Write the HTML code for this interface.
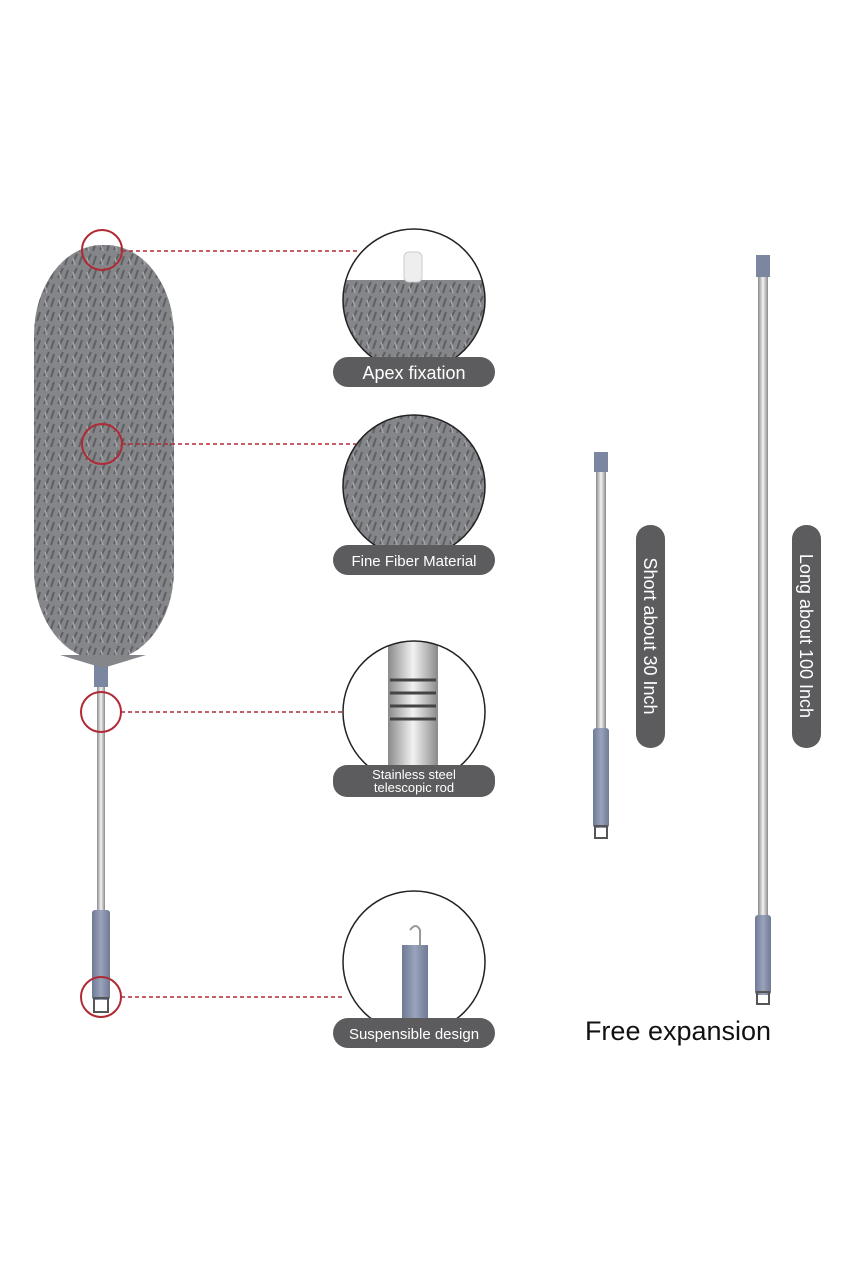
<!DOCTYPE html>
<html><head><meta charset="utf-8"><style>
html,body{margin:0;padding:0;background:#fff;}
svg{display:block;font-family:"Liberation Sans",sans-serif;}
</style></head><body>
<svg width="853" height="1280" viewBox="0 0 853 1280" xmlns="http://www.w3.org/2000/svg">
<defs>
<linearGradient id="rod" x1="0" x2="1"><stop offset="0" stop-color="#8a8a8a"/><stop offset=".5" stop-color="#f2f2f2"/><stop offset="1" stop-color="#8a8a8a"/></linearGradient>
<linearGradient id="hd" x1="0" x2="1"><stop offset="0" stop-color="#6f7a95"/><stop offset=".5" stop-color="#9aa3bb"/><stop offset="1" stop-color="#6f7a95"/></linearGradient>
<pattern id="fib" width="14" height="14" patternUnits="userSpaceOnUse"><rect width="14" height="14" fill="#85868a"/><path d="M2 12 L7 2 M9 13 L12 4" stroke="#5f6064" stroke-width="2"/><path d="M5 13 L3 6" stroke="#a4a5a9" stroke-width="1.5"/></pattern>
<clipPath id="c1"><circle cx="414" cy="300" r="71"/></clipPath>
<clipPath id="c2"><circle cx="414" cy="486" r="71"/></clipPath>
<clipPath id="c3"><circle cx="414" cy="712" r="71"/></clipPath>
<clipPath id="c4"><circle cx="414" cy="962" r="71"/></clipPath>
</defs>
<!-- main duster -->
<rect x="97" y="655" width="8" height="260" fill="url(#rod)"/>
<rect x="94" y="652" width="14" height="35" fill="#7b86a0"/>
<rect x="92" y="910" width="18" height="90" rx="3" fill="url(#hd)"/>
<rect x="94" y="998" width="14" height="14" fill="none" stroke="#555" stroke-width="2"/>
<rect x="34" y="245" width="140" height="415" rx="68" ry="90" fill="url(#fib)"/>
<path d="M60 655 L103 668 L146 655 Z" fill="#85868a"/>
<!-- red markers -->
<g fill="none" stroke="#b02a35" stroke-width="2">
<circle cx="102" cy="250" r="20"/><circle cx="102" cy="444" r="20"/><circle cx="101" cy="712" r="20"/><circle cx="101" cy="997" r="20"/>
</g>
<g stroke="#b02a35" stroke-width="1.5" stroke-dasharray="4,3">
<line x1="122" y1="251" x2="360" y2="251"/><line x1="122" y1="444" x2="356" y2="444"/><line x1="121" y1="712" x2="344" y2="712"/><line x1="121" y1="997" x2="344" y2="997"/>
</g>
<!-- detail circles -->
<g clip-path="url(#c1)"><rect x="340" y="225" width="150" height="150" fill="#fff"/><rect x="340" y="280" width="150" height="100" fill="url(#fib)"/><rect x="404" y="252" width="18" height="30" rx="5" fill="#eee" stroke="#ccc"/></g>
<g clip-path="url(#c2)"><rect x="340" y="410" width="150" height="150" fill="url(#fib)"/></g>
<g clip-path="url(#c3)"><rect x="340" y="638" width="150" height="150" fill="#fff"/><rect x="388" y="638" width="50" height="150" fill="url(#rod)"/><g stroke="#444" stroke-width="3"><line x1="390" y1="680" x2="436" y2="680"/><line x1="390" y1="693" x2="436" y2="693"/><line x1="390" y1="706" x2="436" y2="706"/><line x1="390" y1="719" x2="436" y2="719"/></g></g>
<g clip-path="url(#c4)"><rect x="340" y="888" width="150" height="150" fill="#fff"/><rect x="402" y="945" width="26" height="100" fill="url(#hd)"/><path d="M410 930 q6 -8 10 0 v15" fill="none" stroke="#999" stroke-width="2"/></g>
<g fill="none" stroke="#222" stroke-width="1.5">
<circle cx="414" cy="300" r="71"/><circle cx="414" cy="486" r="71"/><circle cx="414" cy="712" r="71"/><circle cx="414" cy="962" r="71"/>
</g>
<!-- labels -->
<g fill="#5c5c5e">
<rect x="333" y="357" width="162" height="30" rx="15"/>
<rect x="333" y="545" width="162" height="30" rx="15"/>
<rect x="333" y="765" width="162" height="32" rx="14"/>
<rect x="333" y="1018" width="162" height="30" rx="15"/>
</g>
<g fill="#fff" text-anchor="middle">
<text x="414" y="379" font-size="18">Apex fixation</text>
<text x="414" y="566" font-size="15">Fine Fiber Material</text>
<text x="414" y="779" font-size="13">Stainless steel</text>
<text x="414" y="792" font-size="13">telescopic rod</text>
<text x="414" y="1039" font-size="15">Suspensible design</text>
</g>
<!-- short rod -->
<rect x="596" y="470" width="10" height="260" fill="url(#rod)"/>
<rect x="594" y="452" width="14" height="20" fill="#7b86a0"/>
<rect x="593" y="728" width="16" height="100" rx="3" fill="url(#hd)"/>
<rect x="595" y="826" width="12" height="12" fill="none" stroke="#555" stroke-width="2"/>
<rect x="636" y="525" width="29" height="223" rx="14" fill="#5c5c5e"/>
<text transform="translate(644,636) rotate(90)" fill="#fff" font-size="18" text-anchor="middle">Short about 30 Inch</text>
<!-- long rod -->
<rect x="758" y="275" width="10" height="645" fill="url(#rod)"/>
<rect x="756" y="255" width="14" height="22" fill="#7b86a0"/>
<rect x="755" y="915" width="16" height="80" rx="3" fill="url(#hd)"/>
<rect x="757" y="992" width="12" height="12" fill="none" stroke="#555" stroke-width="2"/>
<rect x="792" y="525" width="29" height="223" rx="14" fill="#5c5c5e"/>
<text transform="translate(800,636) rotate(90)" fill="#fff" font-size="18" text-anchor="middle">Long about 100 Inch</text>
<text x="678" y="1040" font-size="27" fill="#111" text-anchor="middle">Free expansion</text>
</svg>
</body></html>
